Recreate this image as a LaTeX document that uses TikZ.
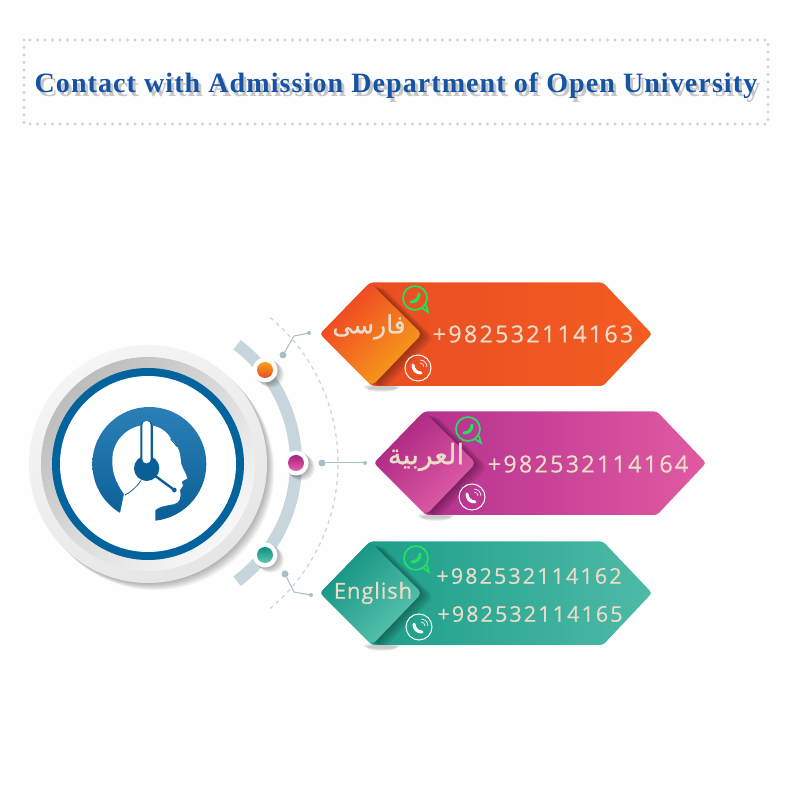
\documentclass[tikz,border=0pt]{standalone}
\usepackage{fontspec}
\setmainfont[LetterSpace=3.9]{Liberation Serif}
\newfontfamily\numfont[LetterSpace=9.5,FakeBold=.5]{Open Sans}
\newfontfamily\namefont[LetterSpace=4,FakeBold=.6]{Open Sans}
\newfontfamily\arabicfont[Script=Arabic,FakeBold=.8]{DejaVu Sans}
\TeXXeTstate=1
\definecolor{ringblue}{HTML}{03639D}
\definecolor{iconblue}{HTML}{2A80B6}
\definecolor{icondark}{HTML}{0B5F98}
\definecolor{paleline}{HTML}{C6D6DC}
\definecolor{pintone}{HTML}{A9BFC8}
\definecolor{sand}{HTML}{EADCC8}
\definecolor{chatgreen}{HTML}{1FE35F}
\definecolor{titleblue}{HTML}{1553A5}
\definecolor{orA}{HTML}{E84B22}\definecolor{orB}{HTML}{F35C22}
\definecolor{orC}{HTML}{EE3F23}\definecolor{orD}{HTML}{F8A11B}
\definecolor{maA}{HTML}{AE2A8B}\definecolor{maB}{HTML}{E05AA2}
\definecolor{maC}{HTML}{A9237F}\definecolor{maD}{HTML}{E060A8}
\definecolor{teA}{HTML}{149A85}\definecolor{teB}{HTML}{4EBAA7}
\definecolor{teC}{HTML}{0F9080}\definecolor{teD}{HTML}{5CC6B0}
\tikzset{
  phonetext/.style={text=sand,font=\numfont\fontsize{23.4}{23.4}\selectfont,inner sep=0pt},
  smalltext/.style={text=sand,font=\numfont\fontsize{21.6}{21.6}\selectfont,inner sep=0pt},
  nametext/.style={text=sand,font=\namefont\fontsize{22}{22}\selectfont,inner sep=0pt},
  arabictext/.style={text=sand,font=\arabicfont\fontsize{#1}{#1}\selectfont,inner sep=0pt},
  titletext/.style={font=\bfseries\fontsize{28}{28}\selectfont,inner sep=0pt},
  pinstart/.style={circle,fill=pintone,minimum size=7pt,inner sep=0pt},
  pinend/.style={circle,fill=pintone,minimum size=4pt,inner sep=0pt},
  linkline/.style={pintone,line width=1pt},
  handset/.pic={
    \draw[line width=3pt,line cap=round,#1] (-4,4) .. controls (-4,-1) and (-1,-4) .. (4,-4);
    \draw[line width=1.6pt,line cap=round,#1] (-4,4) .. controls (-3,0) and (0,-3) .. (4,-4);
  }
}
\begin{document}
\begin{tikzpicture}[x=1pt,y=1pt]
\useasboundingbox (0,0) rectangle (800,800);
\fill[white!99.5!black] (0,0) rectangle (800,800);
% title
\draw[paleline,line width=3.4pt,line cap=round,dash pattern=on 0pt off 7.5pt] (24,760) rectangle (768,676);
\node[titletext,text=black,opacity=.22] (titleshadow) at (399,710) {Contact with Admission Department of Open University};
\node[titletext,text=titleblue] (title) at (396,714) {Contact with Admission Department of Open University};
% arcs behind the disc
\draw[paleline,line width=1.2pt,dash pattern=on 4pt off 4pt] (148,337)++(50:190) arc[start angle=50,end angle=-50,radius=190];
\draw[paleline,line width=12pt] (148,337)++(53:148) arc[start angle=53,end angle=-53,radius=148];
% disc
\foreach \o in {1,...,8}
  \fill[black,opacity=.04] (148+\o*.9,336-\o*.9) circle (119);
\shade[top color=white!96!black,bottom color=white!90!black,shading angle=30] (148,336) circle (119);
\shade[top color=black!26,bottom color=white!97!black,shading angle=45] (148,336) circle (107);
\fill[ringblue] (148,336) circle (96);
\fill[white] (148,336) circle (88);
% head icon, in units of the crop
\begin{scope}[shift={(80pt,405pt)},x=.3333pt,y=-.3333pt]
  \shade[top color=iconblue,bottom color=icondark] (208,207) circle (171);
  \fill[white] (120,355) -- (132,297) .. controls (105,260) and (95,225) .. (97,190)
    .. controls (100,130) and (150,90) .. (200,90) .. controls (235,90) and (262,110) .. (272,130)
    .. controls (295,150) and (302,175) .. (303,205) .. controls (310,225) and (320,240) .. (322,250)
    -- (305,260) -- (309,272) -- (300,285) .. controls (305,305) and (300,325) .. (280,328)
    .. controls (255,332) and (238,335) .. (226,345) -- (226,385) -- (120,385) -- cycle;
  \draw[icondark,line width=1pt] (272,132) -- (292,155);
  \fill[icondark,rounded corners=6pt] (181,78) rectangle (219,210);
  \fill[icondark] (200,220) circle (38);
  \fill[white,rounded corners=4pt] (187,78) rectangle (212,205);
  \draw[icondark,line width=2.4pt] (222,240) -- (283,285);
  \fill[icondark] (283,285) circle (7);
  \draw[icondark,line width=.8pt] (135,300) .. controls (155,290) and (170,275) .. (183,257);
\end{scope}
% pins on the arc
\foreach \n/\px/\py/\ca/\cb in {pinfa/265/430/orD/orA,pinar/296/337/maC/maD,pinen/265/245/teC/teD}{
  \foreach \o in {1,...,6}
    \fill[black,opacity=.05] (\px+\o,\py-\o*.8) circle (13);
  \fill[white] (\px,\py) circle (12.5);
  \shade[top color=\ca,bottom color=\cb] (\px,\py) circle (8);
  \coordinate (\n) at (\px,\py);
}
% connectors
\node[pinstart] (fastart) at (283,445) {};
\coordinate (fabend) at (294,464);
\node[pinend] (faend) at (309,467) {};
\draw[linkline] (fastart) -- (fabend) -- (faend);
\node[pinstart] (arstart) at (322,337) {};
\node[pinend] (arend) at (365,337) {};
\draw[linkline] (arstart) -- (arend);
\node[pinstart] (enstart) at (285,226) {};
\coordinate (enbend) at (294,208);
\node[pinend] (enend) at (311,205) {};
\draw[linkline] (enstart) -- (enbend) -- (enend);
% banners
\foreach \bx/\by/\ca/\cb/\cc/\cd in {320/466/orA/orB/orC/orD,374/337/maA/maB/maC/maD,320/207/teA/teB/teC/teD}{
  \begin{scope}[shift={(\bx pt,\by pt)}]
    \foreach \o in {1,...,6}
      \fill[black,opacity=.035] (62,-52-\o*.5) ellipse [x radius=20-\o,y radius=3];
    \shade[left color=\ca,right color=\cb,rounded corners=3pt] (0,0) -- (50,51.5) -- (283,51.5) -- (332,0) -- (283,-52) -- (52,-52) -- cycle;
    \begin{scope}
      \clip[rounded corners=3pt] (0,0) -- (50,51.5) -- (283,51.5) -- (332,0) -- (283,-52) -- (52,-52) -- cycle;
      \foreach \o in {2,4,...,12}
        \fill[black,opacity=.06,rounded corners=5pt] (\o,-\o/3) -- (50+\o,51.5-\o/3) -- (102+\o,-\o/3) -- (52+\o,-52-\o/3) -- cycle;
    \end{scope}
    \shade[top color=\cc,bottom color=\cd,shading angle=45,rounded corners=5pt] (0,0) -- (50,51.5) -- (102,0) -- (52,-52) -- cycle;
  \end{scope}
}
% chat and call signs
\foreach \n/\wx/\wy/\cx/\cy in {fa/415/502/418/432,ar/468/371/472/303,en/416/242/419/173}{
  \draw[chatgreen,line width=1.7pt,fill=none] (\wx+7,\wy-10) -- (\wx+13,\wy-14) -- (\wx+11,\wy-7);
  \draw[chatgreen,line width=1.7pt] (\wx,\wy) circle (12);
  \path (\wx,\wy) pic[rotate=90] {handset={chatgreen}};
  \draw[white,line width=1pt] (\cx,\cy) circle (13);
  \path (\cx-1,\cy-1) pic {handset={white}};
  \draw[white,line width=.6pt] (\cx+2,\cy+5) arc[start angle=90,end angle=0,radius=4];
  \draw[white,line width=.6pt] (\cx+2,\cy+8) arc[start angle=90,end angle=0,radius=7];
}
% labels
\node[arabictext=25] (farsi) at (369,473) {\beginR فارسی\endR};
\node[phonetext] (farsinum) at (533,466) {+982532114163};
\node[arabictext=28] (arabic) at (426,343) {\beginR العربية\endR};
\node[phonetext] (arabicnum) at (588,336) {+982532114164};
\node[nametext] (english) at (373,207) {English};
\node[smalltext] (enumA) at (529,224) {+982532114162};
\node[smalltext] (enumB) at (530,186) {+982532114165};
\end{tikzpicture}
\end{document}
